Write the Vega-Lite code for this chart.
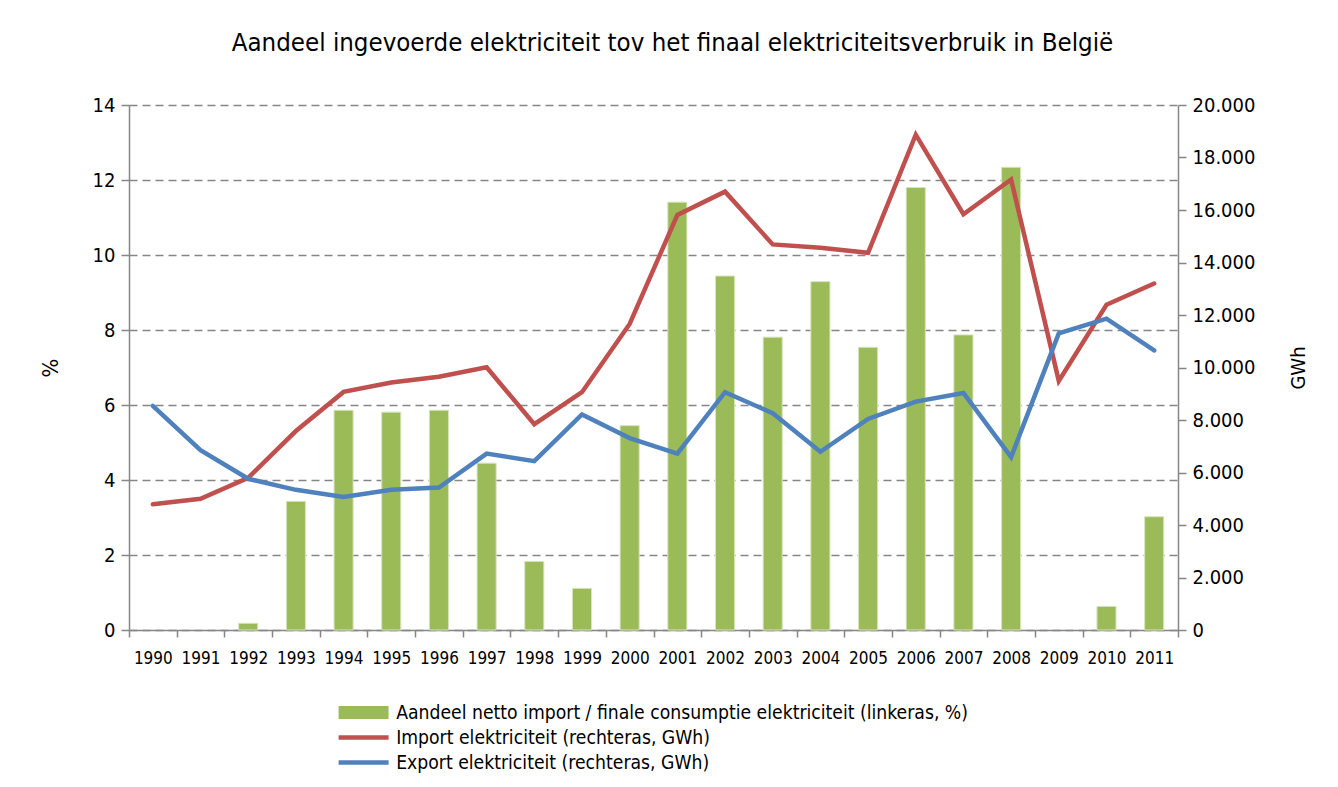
{
  "$schema": "https://vega.github.io/schema/vega-lite/v6.json",
  "autosize": {"type": "none"},
  "padding": {"left": 129, "top": 105, "right": 160, "bottom": 157},
  "width": 1049,
  "height": 525,
  "background": "white",
  "title": {
    "text": "Aandeel ingevoerde elektriciteit tov het finaal elektriciteitsverbruik in België",
    "fontSize": 25.6,
    "font": "DejaVu Sans Condensed, Liberation Sans",
    "fontWeight": "normal",
    "color": "#000000",
    "anchor": "middle",
    "dx": 19,
    "offset": 38
  },
  "config": {
    "view": {"stroke": null},
    "font": "DejaVu Sans Condensed, Liberation Sans",
    "axis": {
      "domainColor": "#868686",
      "domainWidth": 1.5,
      "tickColor": "#868686",
      "tickWidth": 1.5,
      "tickSize": 8,
      "labelColor": "#000000",
      "titleColor": "#000000",
      "titleFontWeight": "normal",
      "labelFont": "DejaVu Sans Condensed, Liberation Sans",
      "titleFont": "DejaVu Sans Condensed, Liberation Sans"
    },
    "legend": {
      "labelFont": "DejaVu Sans Condensed, Liberation Sans",
      "labelFontSize": 19.2,
      "labelColor": "#000000",
      "labelLimit": 0
    }
  },
  "data": {
    "values": [
      {"jaar": "1990", "aandeel": null, "import": 4790, "export": 8540},
      {"jaar": "1991", "aandeel": null, "import": 5000, "export": 6850},
      {"jaar": "1992", "aandeel": 0.18, "import": 5800, "export": 5760},
      {"jaar": "1993", "aandeel": 3.43, "import": 7580, "export": 5340},
      {"jaar": "1994", "aandeel": 5.86, "import": 9070, "export": 5070},
      {"jaar": "1995", "aandeel": 5.81, "import": 9430, "export": 5340},
      {"jaar": "1996", "aandeel": 5.86, "import": 9650, "export": 5430},
      {"jaar": "1997", "aandeel": 4.45, "import": 10010, "export": 6720},
      {"jaar": "1998", "aandeel": 1.83, "import": 7840, "export": 6430},
      {"jaar": "1999", "aandeel": 1.11, "import": 9060, "export": 8210},
      {"jaar": "2000", "aandeel": 5.45, "import": 11660, "export": 7310},
      {"jaar": "2001", "aandeel": 11.41, "import": 15810, "export": 6720},
      {"jaar": "2002", "aandeel": 9.44, "import": 16700, "export": 9060},
      {"jaar": "2003", "aandeel": 7.81, "import": 14690, "export": 8260},
      {"jaar": "2004", "aandeel": 9.29, "import": 14560, "export": 6790},
      {"jaar": "2005", "aandeel": 7.54, "import": 14370, "export": 8040},
      {"jaar": "2006", "aandeel": 11.8, "import": 18870, "export": 8700},
      {"jaar": "2007", "aandeel": 7.87, "import": 15840, "export": 9030},
      {"jaar": "2008", "aandeel": 12.34, "import": 17160, "export": 6590},
      {"jaar": "2009", "aandeel": null, "import": 9490, "export": 11300},
      {"jaar": "2010", "aandeel": 0.63, "import": 12390, "export": 11860},
      {"jaar": "2011", "aandeel": 3.02, "import": 13200, "export": 10650}
    ]
  },
  "encoding": {
    "x": {
      "field": "jaar",
      "type": "ordinal",
      "scale": {"type": "band", "paddingInner": 0, "paddingOuter": 0},
      "axis": {
        "title": null,
        "labelAngle": 0,
        "labelFontSize": 17,
        "labelPadding": 13,
        "tickBand": "extent",
        "tickSize": 7
      }
    }
  },
  "layer": [
    {
      "mark": {"type": "bar", "width": {"band": 0.4}, "stroke": "#d7e4bd", "strokeWidth": 1},
      "encoding": {
        "y": {
          "field": "aandeel",
          "type": "quantitative",
          "scale": {"domain": [0, 14], "nice": false},
          "axis": {
            "orient": "left",
            "title": "%",
            "titleFontSize": 22,
            "titlePadding": 30,
            "labelFontSize": 20,
            "labelPadding": 6,
            "values": [0, 2, 4, 6, 8, 10, 12, 14],
            "grid": true,
            "gridColor": "#868686",
            "gridDash": [8, 5],
            "gridWidth": 1.5
          }
        },
        "fill": {
          "datum": "Aandeel netto import / finale consumptie elektriciteit (linkeras, %)",
          "scale": {"range": ["#9bbb59"]},
          "legend": {
            "orient": "none",
            "legendX": 225,
            "legendY": 598,
            "title": null,
            "symbolType": "M-5,-1.3H5V1.3H-5Z",
            "symbolSize": 100,
            "symbolStrokeWidth": 0,
            "labelOffset": 23
          }
        }
      }
    },
    {
      "layer": [
        {
          "mark": {"type": "line", "strokeWidth": 4.5, "strokeCap": "round"},
          "encoding": {
            "y": {
              "field": "import",
              "type": "quantitative",
              "scale": {"domain": [0, 20000], "nice": false},
              "axis": {
                "orient": "right",
                "title": "GWh",
                "titleAngle": 270,
                "titleBaseline": "top",
                "titleFontSize": 20,
                "titlePadding": 34,
                "labelFontSize": 20,
                "labelPadding": 6,
                "values": [0, 2000, 4000, 6000, 8000, 10000, 12000, 14000, 16000, 18000, 20000],
                "labelExpr": "replace(format(datum.value, ','), ',', '.')",
                "grid": false
              }
            },
            "stroke": {
              "datum": "Import elektriciteit (rechteras, GWh)",
              "scale": {
                "domain": ["Import elektriciteit (rechteras, GWh)", "Export elektriciteit (rechteras, GWh)"],
                "range": ["#c0504d", "#4f81bd"]
              },
              "legend": {
                "orient": "none",
                "legendX": 225,
                "legendY": 623,
                "title": null,
                "symbolType": "M-5,0H5",
                "symbolSize": 100,
                "symbolStrokeWidth": 4.5,
                "rowPadding": 5,
                "labelOffset": 23
              }
            }
          }
        },
        {
          "mark": {"type": "line", "strokeWidth": 4.5, "strokeCap": "round"},
          "encoding": {
            "y": {"field": "export", "type": "quantitative", "title": "GWh"},
            "stroke": {"datum": "Export elektriciteit (rechteras, GWh)"}
          }
        }
      ]
    }
  ],
  "resolve": {"scale": {"y": "independent"}}
}
